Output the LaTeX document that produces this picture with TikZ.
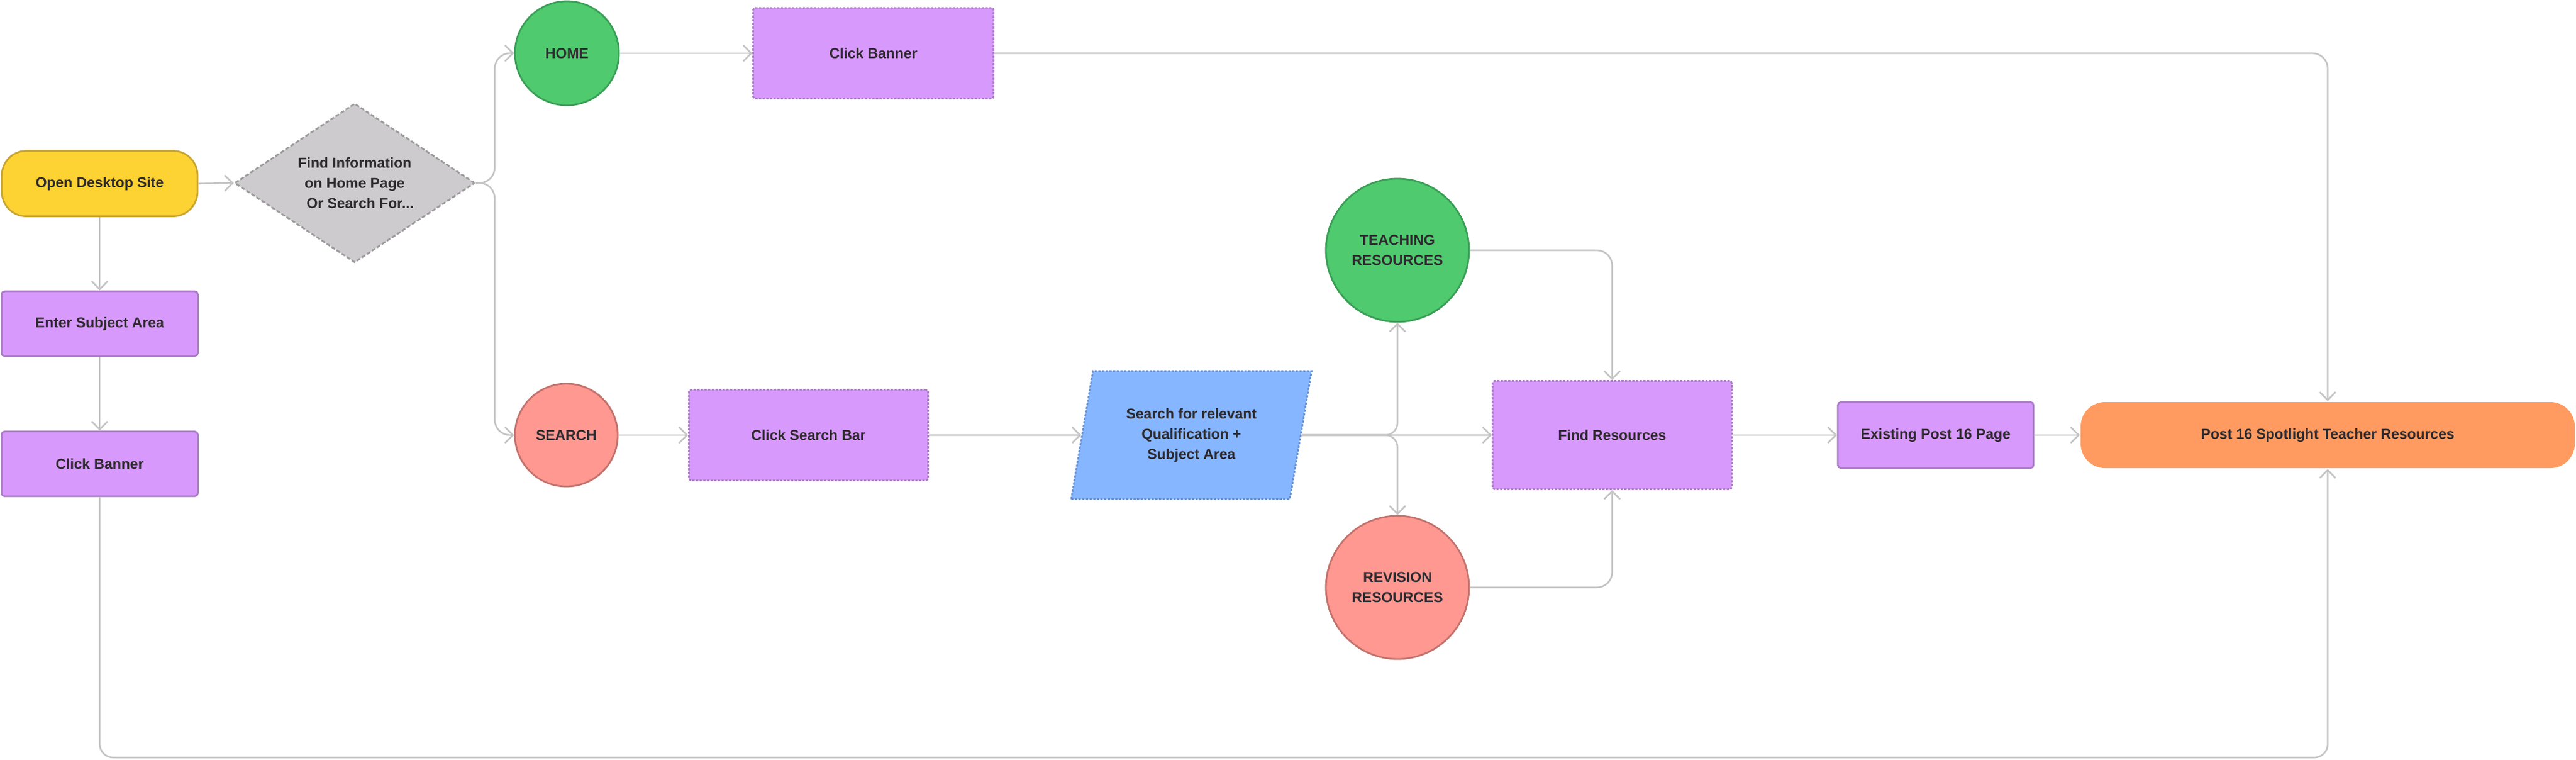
\documentclass[tikz,border=0pt]{standalone}
\usepackage{fontspec}
\setmainfont{Liberation Sans}
\usetikzlibrary{shapes.geometric,arrows.meta,calc}

\definecolor{txtc}{HTML}{2E2A2F}
\definecolor{lncol}{HTML}{C4C4C4}
\definecolor{yel}{HTML}{FDD233}
\definecolor{yelb}{HTML}{C9A531}
\definecolor{gry}{HTML}{CDCBCD}
\definecolor{gryb}{HTML}{9C9A9C}
\definecolor{grn}{HTML}{4FCA6E}
\definecolor{grnb}{HTML}{3A9E56}
\definecolor{pur}{HTML}{D899FD}
\definecolor{purb}{HTML}{A97CC4}
\definecolor{rd}{HTML}{FF9891}
\definecolor{rdb}{HTML}{C2726D}
\definecolor{blu}{HTML}{86B6FF}
\definecolor{blub}{HTML}{6690D4}
\definecolor{org}{HTML}{FF9B60}

\tikzset{
  lbl/.style={font=\bfseries\fontsize{6.7}{9.4}\selectfont, text=txtc, align=center, inner sep=0pt},
  link/.style={draw=lncol, line width=0.75pt, rounded corners=0.2cm,
    -{Straight Barb[length=0.13cm,width=0.26cm,line width=0.75pt]}},
  boxsolid/.style={lbl, rectangle, draw=purb, fill=pur, line width=0.8pt, rounded corners=1.5pt},
  boxdash/.style={lbl, rectangle, draw=purb, fill=pur, line width=0.8pt,
    dash pattern=on 1pt off 0.7pt, rounded corners=1pt},
  termbox/.style={lbl, rectangle, rounded corners=0.4cm, line width=0.8pt},
  circg/.style={lbl, circle, draw=grnb, fill=grn, line width=0.8pt},
  circr/.style={lbl, circle, draw=rdb, fill=rd, line width=0.8pt},
  decide/.style={lbl, diamond, draw=gryb, fill=gry, line width=0.8pt,
    dash pattern=on 1.8pt off 1pt, minimum width=3.93cm, minimum height=2.60cm, aspect=1.51},
  inout/.style={lbl, trapezium, trapezium left angle=68, trapezium right angle=112,
    trapezium stretches body, draw=blub, fill=blu, line width=0.8pt,
    dash pattern=on 1pt off 0.7pt, minimum width=3.93cm, minimum height=2.09cm}
}

\begin{document}
\begin{tikzpicture}
\useasboundingbox (0,0) rectangle (42.12,-12.41);
\fill[white] (0,0) rectangle (42.12,-12.41);

% nodes
\node[termbox, draw=yelb, fill=yel, minimum width=3.20cm, minimum height=1.07cm] (open) at (1.63,-3.00) {Open Desktop Site};
\node[boxsolid, minimum width=3.21cm, minimum height=1.06cm] (enter) at (1.63,-5.29) {Enter Subject Area};
\node[boxsolid, minimum width=3.21cm, minimum height=1.06cm] (cbleft) at (1.63,-7.58) {Click Banner};
\node[decide] (dia) at (5.80,-2.99) {Find Information\\on Home Page\\\hspace*{0.18cm}Or Search For...};
\node[circg, minimum size=1.70cm] (home) at (9.27,-0.87) {HOME};
\node[boxdash, minimum width=3.93cm, minimum height=1.48cm] (cbtop) at (14.28,-0.87) {Click Banner};
\node[circr, minimum size=1.68cm] (search) at (9.26,-7.11) {SEARCH};
\node[boxdash, minimum width=3.91cm, minimum height=1.48cm] (csb) at (13.22,-7.11) {Click Search Bar};
\node[inout] (para) at (19.48,-7.11) {Search for relevant\\Qualification +\\Subject Area};
\node[circg, minimum size=2.34cm] (teach) at (22.85,-4.09) {TEACHING\\RESOURCES};
\node[circr, minimum size=2.34cm] (rev) at (22.85,-9.60) {REVISION\\RESOURCES};
\node[boxdash, minimum width=3.91cm, minimum height=1.77cm] (find) at (26.36,-7.11) {Find Resources};
\node[boxsolid, minimum width=3.20cm, minimum height=1.08cm] (exist) at (31.65,-7.11) {Existing Post 16 Page};
\node[termbox, fill=org, minimum width=8.08cm, minimum height=1.08cm] (spot) at (38.06,-7.11) {Post 16 Spotlight Teacher Resources};

\coordinate (bl) at (1.63,-12.38);

% connectors
\draw[link] (open.east) -- (dia.west);
\draw[link] (open.south) -- (enter.north);
\draw[link] (enter.south) -- (cbleft.north);
\draw[link, rounded corners=0.22cm] (cbleft.south) -- (bl) -| (spot.south);
\draw[link, rounded corners=0.25cm] (dia.east) -- ++(0.31,0) |- (home.west);
\draw[link, rounded corners=0.25cm] (dia.east) -- ++(0.31,0) |- (search.west);
\draw[link] (home.east) -- (cbtop.west);
\draw[link, rounded corners=0.25cm] (cbtop.east) -| (spot.north);
\draw[link] (search.east) -- (csb.west);
\draw[link] (csb.east) -- (para);
\draw[link] (para) -- (find.west);
\draw[link] (para) -- (teach |- para) -- (teach);
\draw[link] (para) -- (rev |- para) -- (rev);
\draw[link, rounded corners=0.25cm] (teach.east) -| (find.north);
\draw[link, rounded corners=0.25cm] (rev.east) -| (find.south);
\draw[link] (find.east) -- (exist.west);
\draw[link] (exist.east) -- (spot.west);
\end{tikzpicture}
\end{document}
